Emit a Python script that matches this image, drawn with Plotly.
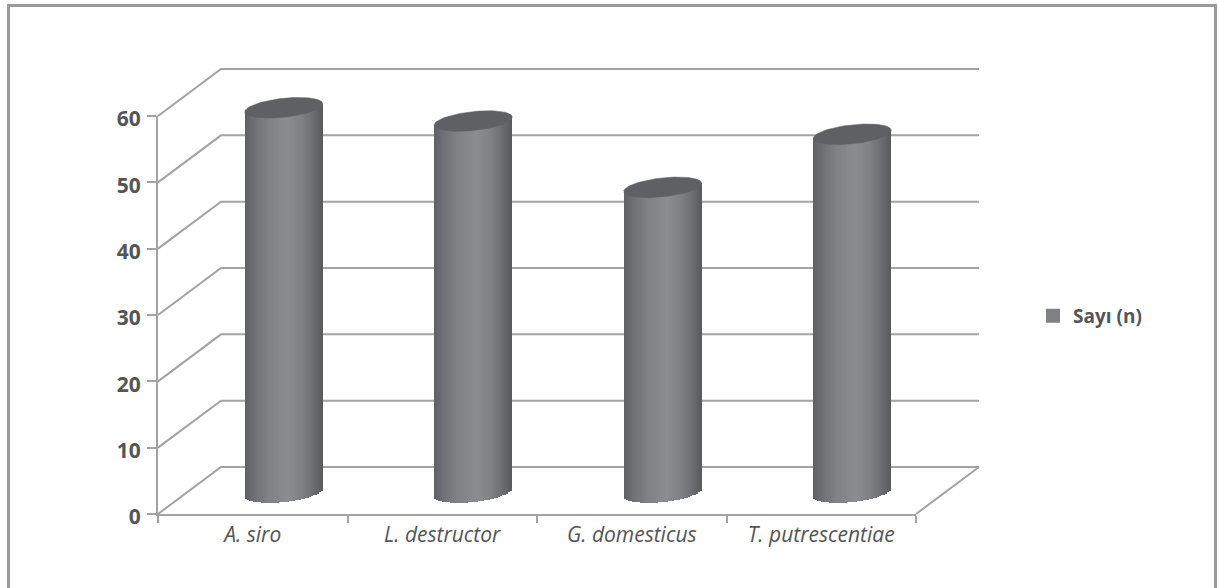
import numpy as np
import plotly.graph_objects as go

# Chart data
species = ["A. siro", "L. destructor", "G. domesticus", "T. putrescentiae"]
counts = [58, 56, 46, 54]
value_ticks = [0, 10, 20, 30, 40, 50, 60]
series_name = "Sayı (n)"

# Canvas geometry
WIDTH, HEIGHT = 1219, 588
X0_PX, Y0_PX = 158, 514
PX_PER_CAT = 189.5
PX_PER_VAL = 398 / 60
DEPTH_X = 63 / PX_PER_CAT      # oblique depth of the floor, in category units
DEPTH_Y = 47 / PX_PER_VAL      # oblique depth of the floor, in value units
CYL_DX = 31 / PX_PER_CAT       # cylinders stand half way into the floor
CYL_DY = 21.5 / PX_PER_VAL
CYL_A = 39 / PX_PER_CAT        # ellipse half width
CYL_B = 9.5 / PX_PER_VAL       # ellipse half height
CYL_TILT = 4 / PX_PER_VAL      # ellipse rise at its right end
STRIPS = 39

GRID = "#a3a3a3"
TEXT = "#545557"
CAP = "#5f6063"
KEY = "#808185"
FONT = "Open Sans"

shade_pos = [-1.0, -0.75, -0.4, 0.1, 0.45, 0.75, 1.0]
shade_val = [95, 112, 128, 139, 128, 108, 88]


def shade(u):
    g = float(np.interp(u, shade_pos, shade_val))
    return f"rgb({g:.0f},{g + 1:.0f},{g + 4:.0f})"


fig = go.Figure()

# Back wall, side wall and floor edges, under the cylinders
wall_x, wall_y = [], []
for v in value_ticks:
    wall_x += [0, DEPTH_X, 4 + DEPTH_X, None]
    wall_y += [v, v + DEPTH_Y, v + DEPTH_Y, None]
wall_x += [4, 4 + DEPTH_X, None]
wall_y += [0, DEPTH_Y, None]
fig.add_trace(go.Scatter(x=wall_x, y=wall_y, mode="lines",
                         line=dict(color=GRID, width=2),
                         showlegend=False, hoverinfo="skip"))

# Cylinders: a body made of thin shaded bars and a flat elliptical cap
u = (np.arange(STRIPS) + 0.5) / STRIPS * 2 - 1
for i, value in enumerate(counts):
    centre = i + 0.5 + CYL_DX
    arc = CYL_B * np.sqrt(1 - u ** 2)
    tilt = CYL_TILT * u
    base = CYL_DY + tilt - arc
    top = value + CYL_DY + tilt
    fig.add_trace(go.Bar(
        x=centre + u * CYL_A, y=top - base, base=base,
        width=2.4 * CYL_A / STRIPS,
        marker=dict(color=[shade(s) for s in u], line=dict(width=0)),
        xaxis="x2", yaxis="y2", showlegend=False, hoverinfo="skip"))

    t = np.linspace(0, 2 * np.pi, 90)
    fig.add_trace(go.Scatter(
        x=centre + CYL_A * np.cos(t),
        y=value + CYL_DY + CYL_TILT * np.cos(t) + CYL_B * np.sin(t),
        mode="lines", fill="toself", fillcolor=CAP,
        line=dict(color=CAP, width=0.5),
        xaxis="x2", yaxis="y2", showlegend=False, hoverinfo="skip"))

# Legend key, on the subplot that carries the visible axes
fig.add_trace(go.Bar(x=[None], y=[None], name=series_name,
                     marker=dict(color=KEY, line=dict(color=KEY, width=2)),
                     xaxis="x3", yaxis="y3", hoverinfo="skip"))

canvas_x = [-X0_PX / PX_PER_CAT, (WIDTH - X0_PX) / PX_PER_CAT]
canvas_y = [-(HEIGHT - Y0_PX) / PX_PER_VAL, Y0_PX / PX_PER_VAL]
hidden = dict(visible=False, fixedrange=True)

fig.update_layout(
    width=WIDTH, height=HEIGHT, autosize=False,
    margin=dict(l=0, r=0, t=0, b=0, autoexpand=False),
    paper_bgcolor="white", plot_bgcolor="rgba(0,0,0,0)",
    barmode="overlay", bargap=0,
    font=dict(family=FONT, color=TEXT),
    xaxis=dict(range=canvas_x, domain=[0, 1], **hidden),
    yaxis=dict(range=canvas_y, domain=[0, 1], **hidden),
    xaxis2=dict(range=canvas_x, overlaying="x", anchor="y2", **hidden),
    yaxis2=dict(range=canvas_y, overlaying="y", anchor="x2", **hidden),
    xaxis3=dict(
        range=[0, 4], anchor="y3",
        domain=[X0_PX / WIDTH, (X0_PX + 4 * PX_PER_CAT) / WIDTH],
        tickvals=[i + 0.5 for i in range(len(species))], ticktext=species,
        ticks="", showgrid=False, zeroline=False, tickangle=0,
        showline=True, linecolor=GRID, linewidth=2,
        tickfont=dict(family=FONT, size=21, color=TEXT, style="italic"),
        ticklabelstandoff=1,
        minor=dict(tickvals=list(range(5)), ticks="outside", ticklen=7,
                   tickwidth=2, tickcolor=GRID, showgrid=False),
        fixedrange=True),
    yaxis3=dict(
        range=[0, 60], anchor="x3",
        domain=[(HEIGHT - Y0_PX) / HEIGHT,
                (HEIGHT - Y0_PX + 60 * PX_PER_VAL) / HEIGHT],
        tickvals=value_ticks, ticks="outside", ticklen=9,
        tickwidth=2, tickcolor=GRID, showgrid=False, zeroline=False,
        showline=True, linecolor=GRID, linewidth=2,
        tickfont=dict(family=FONT, size=21, color=TEXT, weight="bold"),
        ticklabelstandoff=2, ticklabelshift=3,
        fixedrange=True),
    showlegend=True,
    legend=dict(x=1033 / WIDTH, y=1 - 316 / HEIGHT, xanchor="left", yanchor="middle",
                bgcolor="rgba(0,0,0,0)", borderwidth=0,
                font=dict(family=FONT, size=19, color=TEXT, weight="bold")),
    shapes=[
        # Frame around the figure: left, top and right sides only
        dict(type="line", xref="paper", yref="paper", x0=8.5 / WIDTH, x1=8.5 / WIDTH,
             y0=0, y1=1 - 4 / HEIGHT, line=dict(color="#9a9a9a", width=3)),
        dict(type="line", xref="paper", yref="paper", x0=7 / WIDTH, x1=1217 / WIDTH,
             y0=1 - 5.5 / HEIGHT, y1=1 - 5.5 / HEIGHT, line=dict(color="#9a9a9a", width=3)),
        dict(type="line", xref="paper", yref="paper", x0=1215.5 / WIDTH, x1=1215.5 / WIDTH,
             y0=0, y1=1 - 4 / HEIGHT, line=dict(color="#9a9a9a", width=3)),
    ],
)

fig.write_html("out.html")
